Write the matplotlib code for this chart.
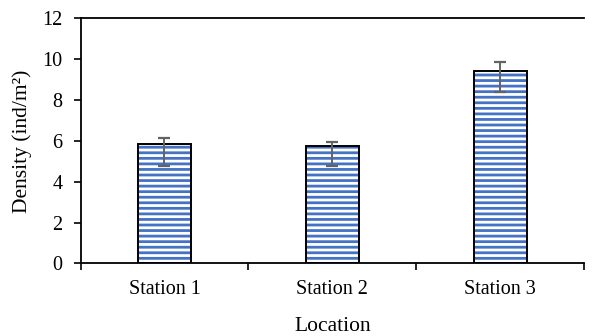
import matplotlib
matplotlib.use("Agg")
import matplotlib.pyplot as plt
import numpy as np

stations = ["Station 1", "Station 2", "Station 3"]
density = [5.84, 5.77, 9.43]
err_up = [0.29, 0.19, 0.44]
err_down = [1.05, 1.0, 1.02]

plt.rcParams['font.family'] = ['Liberation Serif', 'DejaVu Serif']
plt.rcParams['hatch.linewidth'] = 2.0

fig = plt.figure(figsize=(5.92, 3.36), dpi=100)
ax = fig.add_axes([0.136, 0.216, 0.851, 0.729])

x = np.arange(len(stations))
# striped fill: hatch takes its colour from the edge, so draw it without an outline
ax.bar(x, density, width=0.315, color='white', edgecolor='#4472C4',
       linewidth=0, hatch='---', zorder=2)
# black outline on top
ax.bar(x, density, width=0.315, fill=False, edgecolor='black',
       linewidth=1.4, zorder=3)
ax.errorbar(x, density, yerr=[err_down, err_up], fmt='none',
            ecolor='#636363', elinewidth=1.4, capsize=4.5, capthick=1.6, zorder=4)

ax.set_xlim(-0.5, 2.5)
ax.set_ylim(0, 12)
ax.set_yticks(np.arange(0, 13, 2))
ax.set_xticks([-0.5, 0.5, 1.5, 2.5])
ax.set_xticklabels([])
ax.set_xticks(x, minor=True)
ax.set_xticklabels(stations, minor=True)
ax.tick_params(axis='x', which='minor', length=0, pad=12)
ax.tick_params(axis='x', which='major', length=5, width=1.2, direction='out')
ax.tick_params(axis='y', length=5, width=1.2, direction='out', pad=8)
ax.tick_params(which='both', labelsize=14.5)

for side in ['left', 'bottom', 'top']:
    ax.spines[side].set_linewidth(1.3)
ax.spines['right'].set_visible(False)

ax.set_xlabel("Location", fontsize=15.5, labelpad=13)
ax.set_ylabel("Density (ind/m²)", fontsize=15.5, labelpad=7)

fig.savefig("out.png", dpi=100)
